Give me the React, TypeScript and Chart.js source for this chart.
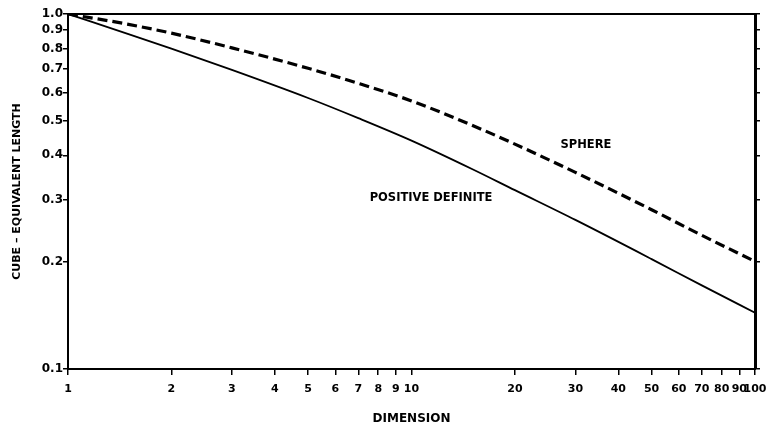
import React, { useEffect, useRef } from "react";
import { Chart, registerables } from "chart.js";

Chart.register(...registerables);

const DIMENSION = [1, 1.5, 2, 3, 5, 7, 10, 15, 20, 30, 50, 70, 100];
const POSITIVE_DEFINITE = [1.0, 0.878, 0.799, 0.696, 0.58, 0.509, 0.44, 0.366, 0.319, 0.263, 0.204, 0.172, 0.144];
const SPHERE = [1.0, 0.935, 0.883, 0.803, 0.703, 0.638, 0.569, 0.486, 0.43, 0.358, 0.281, 0.238, 0.201];

const X_TICKS = [1, 2, 3, 4, 5, 6, 7, 8, 9, 10, 20, 30, 40, 50, 60, 70, 80, 90, 100];
const X_TICK_LABELS = ["1", "2", "3", "4", "5", "6", "7", "8", "9", "10", "20", "30", "40", "50", "60", "70", "80", "90", "100"];
const Y_TICKS = [0.1, 0.2, 0.3, 0.4, 0.5, 0.6, 0.7, 0.8, 0.9, 1.0];
const Y_TICK_LABELS = ["0.1", "0.2", "0.3", "0.4", "0.5", "0.6", "0.7", "0.8", "0.9", "1.0"];

const CURVE_LABELS = ["SPHERE", "POSITIVE DEFINITE"];
const CURVE_LABEL_X = [32.2, 11.4];
const CURVE_LABEL_Y = [0.428, 0.303];

const FONT = "'DejaVu Sans', 'Liberation Sans', Arial, sans-serif";

function labelFor(ticks: number[], labels: string[], v: number) {
  const i = ticks.findIndex((t) => Math.abs(t - v) < 1e-9 * Math.max(1, t));
  return i >= 0 ? labels[i] : "";
}

const framePlugin = {
  id: "frame",
  afterDatasetsDraw(chart: any) {
    const { ctx, chartArea } = chart;
    ctx.save();
    ctx.strokeStyle = "#000";
    ctx.lineWidth = 2;
    ctx.strokeRect(chartArea.left, chartArea.top, chartArea.right - chartArea.left, chartArea.bottom - chartArea.top);
    ctx.restore();
  },
};

const curveLabelPlugin = {
  id: "curveLabels",
  afterDatasetsDraw(chart: any) {
    const { ctx } = chart;
    const xs = chart.scales.x;
    const ys = chart.scales.y;
    ctx.save();
    ctx.fillStyle = "#000";
    ctx.font = `bold 11.5px ${FONT}`;
    ctx.textAlign = "center";
    ctx.textBaseline = "middle";
    CURVE_LABELS.forEach((t, i) => {
      ctx.fillText(t, xs.getPixelForValue(CURVE_LABEL_X[i]), ys.getPixelForValue(CURVE_LABEL_Y[i]));
    });
    ctx.restore();
  },
};

export default function App() {
  const ref = useRef<HTMLCanvasElement | null>(null);

  useEffect(() => {
    if (!ref.current) return;
    const chart = new Chart(ref.current, {
      type: "line",
      data: {
        datasets: [
          {
            label: "SPHERE",
            data: DIMENSION.map((x, i) => ({ x, y: SPHERE[i] })),
            borderColor: "#000",
            borderWidth: 3.2,
            borderDash: [10, 5],
            pointRadius: 0,
            cubicInterpolationMode: "monotone",
            fill: false,
          },
          {
            label: "POSITIVE DEFINITE",
            data: DIMENSION.map((x, i) => ({ x, y: POSITIVE_DEFINITE[i] })),
            borderColor: "#000",
            borderWidth: 1.8,
            pointRadius: 0,
            cubicInterpolationMode: "monotone",
            fill: false,
          },
        ],
      },
      options: {
        animation: false,
        responsive: false,
        layout: { padding: { left: 0, top: 14, right: 0, bottom: 0 } },
        plugins: { legend: { display: false }, tooltip: { enabled: false } },
        scales: {
          x: {
            type: "logarithmic",
            position: "bottom",
            min: 1,
            max: 100,
            afterBuildTicks: (s: any) => {
              s.ticks = X_TICKS.map((v) => ({ value: v }));
            },
            afterFit: (s: any) => {
              s.height = 59;
              s.paddingLeft = 0;
              s.paddingRight = 0;
            },
            ticks: {
              autoSkip: false,
              maxRotation: 0,
              padding: 8,
              color: "#000",
              font: { family: FONT, size: 11, weight: "bold" },
              callback: (v: any) => labelFor(X_TICKS, X_TICK_LABELS, Number(v)),
            },
            grid: { display: true, drawOnChartArea: false, drawTicks: true, tickLength: 6, color: "#000", lineWidth: 1.5 },
            border: { display: true, color: "#000", width: 2 },
            title: {
              display: true,
              text: "DIMENSION",
              color: "#000",
              font: { family: FONT, size: 12, weight: "bold" },
              padding: { top: 0, bottom: 2 },
            },
          },
          y: {
            type: "logarithmic",
            position: "left",
            min: 0.1,
            max: 1,
            afterBuildTicks: (s: any) => {
              s.ticks = Y_TICKS.map((v) => ({ value: v }));
            },
            afterFit: (s: any) => {
              s.width = 68;
              s.paddingTop = 0;
              s.paddingBottom = 0;
            },
            ticks: {
              autoSkip: false,
              padding: 0,
              color: "#000",
              font: { family: FONT, size: 12, weight: "bold" },
              callback: (v: any) => labelFor(Y_TICKS, Y_TICK_LABELS, Number(v)),
            },
            grid: { display: true, drawOnChartArea: false, drawTicks: true, tickLength: 5, color: "#000", lineWidth: 1.5 },
            border: { display: true, color: "#000", width: 2 },
            title: {
              display: true,
              text: "CUBE – EQUIVALENT LENGTH",
              color: "#000",
              font: { family: FONT, size: 11, weight: "bold" },
              padding: { top: 11, bottom: 0 },
            },
          },
          y2: {
            type: "logarithmic",
            position: "right",
            min: 0.1,
            max: 1,
            afterBuildTicks: (s: any) => {
              s.ticks = Y_TICKS.map((v) => ({ value: v }));
            },
            afterFit: (s: any) => {
              s.width = 15;
              s.paddingTop = 0;
              s.paddingBottom = 0;
            },
            ticks: { display: false },
            grid: { display: true, drawOnChartArea: false, drawTicks: true, tickLength: 5, color: "#000", lineWidth: 1.5 },
            border: { display: true, color: "#000", width: 3 },
          },
        },
      } as any,
      plugins: [framePlugin, curveLabelPlugin],
    });
    return () => chart.destroy();
  }, []);

  return (
    <div style={{ position: "absolute", left: 0, top: 0, width: 770, height: 428, background: "#fff" }}>
      <canvas ref={ref} width={770} height={428} style={{ width: 770, height: 428, display: "block" }} />
    </div>
  );
}
